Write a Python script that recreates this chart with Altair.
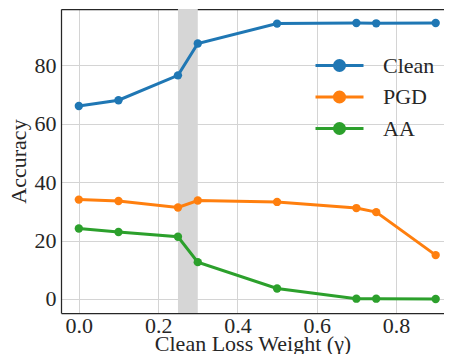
import altair as alt
import pandas as pd

x_vals = [0.0, 0.1, 0.25, 0.3, 0.5, 0.7, 0.75, 0.9]
clean = [66.0, 68.0, 76.5, 87.4, 94.2, 94.4, 94.3, 94.4]
pgd = [34.0, 33.5, 31.3, 33.7, 33.2, 31.1, 29.7, 15.0]
aa = [24.1, 22.9, 21.3, 12.6, 3.6, 0.1, 0.1, 0.0]
series_names = ["Clean", "PGD", "AA"]
series_colors = ["#1f77b4", "#ff7f0e", "#2ca02c"]
span_start = [0.25]
span_end = [0.3]
x_ticks = [0.0, 0.2, 0.4, 0.6, 0.8]
y_ticks = [0, 20, 40, 60, 80]

rows = []
for name, vals in zip(series_names, [clean, pgd, aa]):
    for xv, yv in zip(x_vals, vals):
        rows.append({"gamma": xv, "acc": yv, "series": name})
df = pd.DataFrame(rows)
span_df = pd.DataFrame({"start": span_start, "end": span_end})

FONT = "Liberation Serif"
SPINE = "#262626"
xscale = alt.Scale(domain=[-0.045, 0.921], nice=False, zero=False)
yscale = alt.Scale(domain=[-4.8, 99.2], nice=False, zero=False)

span = alt.Chart(span_df).mark_rect(color="#d6d6d6").encode(
    x=alt.X("start:Q", scale=xscale,
            axis=alt.Axis(values=x_ticks, format=".1f", title="Clean Loss Weight (γ)",
                          orient="bottom", labelFont=FONT, labelPadding=2,
                          titleFontSize=22, titleBaseline="alphabetic", titleY=37)),
    x2="end:Q",
)

legend_path = "M-2,0L2,0M-0.42,0A0.42,0.42 0 1,1 0.42,0A0.42,0.42 0 1,1 -0.42,0Z"

lines = alt.Chart(df).mark_line(
    strokeWidth=3,
    point=alt.OverlayMarkDef(filled=True, size=70, opacity=1),
).encode(
    x=alt.X("gamma:Q", scale=xscale,
            axis=alt.Axis(orient="top", values=x_ticks, labels=False, grid=False,
                          ticks=False, title=None, domain=True)),
    y=alt.Y("acc:Q", scale=yscale,
            axis=alt.Axis(values=y_ticks, title="Accuracy", labelFont=FONT)),
    color=alt.Color(
        "series:N",
        scale=alt.Scale(domain=series_names, range=series_colors),
        sort=series_names,
        legend=alt.Legend(
            title=None,
            orient="none",
            legendX=265,
            legendY=43,
            symbolType=legend_path,
            symbolSize=576,
            symbolStrokeWidth=3,
            labelFont=FONT,
            labelFontSize=22,
            labelColor=SPINE,
            labelOffset=30,
            rowPadding=6.5,
        ),
    ),
)

chart = alt.layer(span, lines).resolve_axis(x="independent").properties(
    width=383,
    height=304,
    padding={"left": 53, "top": 1, "right": 0, "bottom": 41},
    autosize=alt.AutoSizeParams(type="none"),
).configure(
    font=FONT
).configure_view(
    stroke=None
).configure_axis(
    grid=True,
    gridColor="#d4d4d4",
    gridWidth=1,
    domain=True,
    domainColor=SPINE,
    domainWidth=1.25,
    ticks=False,
    labelFont=FONT,
    labelFontSize=22,
    labelColor=SPINE,
    titleFont=FONT,
    titleFontSize=22,
    titleFontWeight="normal",
    titleColor=SPINE,
    labelPadding=5,
).configure_axisY(
    titlePadding=4,
)

chart.save("out.html", embed_options={"renderer": "svg", "actions": False})
